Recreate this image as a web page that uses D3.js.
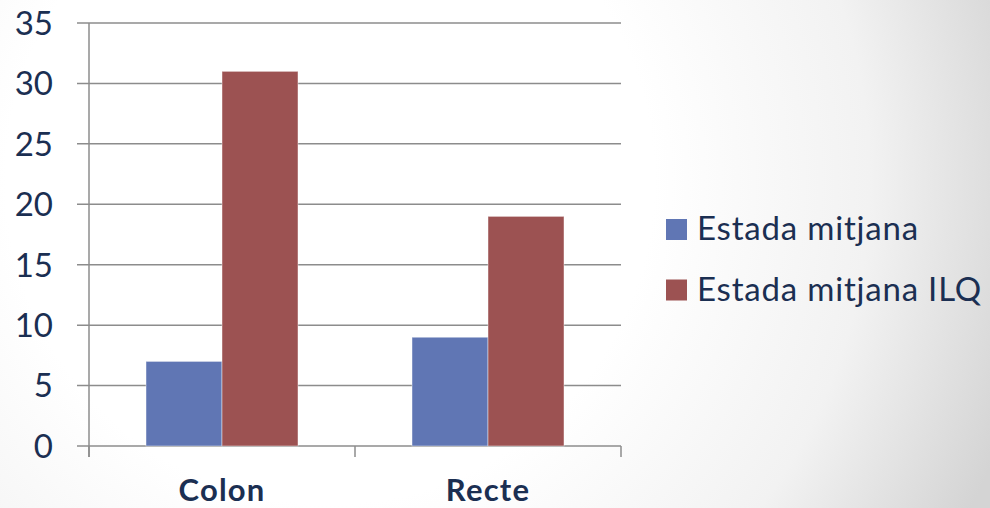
<!doctype html>
<html>
<head>
<meta charset="utf-8">
<style>
  body { margin: 0; }
  svg { display: block; }
  text { font-family: Lato, 'Open Sans', sans-serif; fill: #1b2f52; }
  .grid line, .axis line, .axis path { stroke: #8c8c8c; stroke-width: 1.5; }
  .ytick { font-size: 33px; }
  .cat { font-size: 31px; font-weight: 700; letter-spacing: 1.2px; }
  .legend text { font-size: 33px; letter-spacing: 0.8px; }
</style>
<script src="https://d3js.org/d3.v7.min.js"></script>
</head>
<body>
<svg width="990" height="508"></svg>
<script>
const categories = ['Colon', 'Recte'];
const seriesNames = ['Estada mitjana', 'Estada mitjana ILQ'];
const estadaMitjana = [7, 9];
const estadaMitjanaILQ = [31, 19];
const yTicks = [0, 5, 10, 15, 20, 25, 30, 35];
const colors = ['#6076b4', '#9c5252'];

const series = [estadaMitjana, estadaMitjanaILQ];
const data = categories.map((c, i) => ({ cat: c, values: series.map(s => s[i]) }));

const svg = d3.select('svg');

// background
const defs = svg.append('defs');
const grad = defs.append('radialGradient')
  .attr('id', 'bg')
  .attr('gradientUnits', 'userSpaceOnUse')
  .attr('cx', 330).attr('cy', 180).attr('r', 720);
grad.append('stop').attr('offset', '0.45').attr('stop-color', '#ffffff');
grad.append('stop').attr('offset', '0.75').attr('stop-color', '#f2f2f2');
grad.append('stop').attr('offset', '1').attr('stop-color', '#d4d4d4');
svg.append('rect').attr('width', 990).attr('height', 508).attr('fill', 'url(#bg)');

const plotL = 89, plotR = 621, plotT = 23, plotB = 446;

const x0 = d3.scaleBand().domain(categories).range([plotL, plotR]);
// bar width = bandwidth / 3.5 (gap width 150%)
const bw = x0.bandwidth();
const x1 = d3.scaleBand().domain(d3.range(series.length))
  .range([bw * 0.75 / 3.5, bw * 2.75 / 3.5]);

const y = d3.scaleLinear().domain([0, 35]).range([plotB, plotT]);

// gridlines
svg.append('g').attr('class', 'grid')
  .selectAll('line').data(yTicks).join('line')
  .attr('x1', plotL - 12).attr('x2', plotR)
  .attr('y1', d => y(d)).attr('y2', d => y(d));

// y axis line
svg.append('g').attr('class', 'axis')
  .append('line')
  .attr('x1', plotL).attr('x2', plotL)
  .attr('y1', plotT).attr('y2', plotB + 11);

// x ticks at category boundaries
const bounds = categories.map(c => x0(c)).concat([plotR]);
svg.append('g').attr('class', 'axis')
  .selectAll('line').data(bounds).join('line')
  .attr('x1', d => d).attr('x2', d => d)
  .attr('y1', plotB).attr('y2', plotB + 11);

// bars
const groups = svg.append('g').selectAll('g').data(data).join('g')
  .attr('transform', d => `translate(${x0(d.cat)},0)`);
groups.selectAll('rect').data(d => d.values).join('rect')
  .attr('x', (d, i) => x1(i))
  .attr('width', x1.bandwidth())
  .attr('y', d => y(d))
  .attr('height', d => plotB - y(d))
  .attr('fill', (d, i) => colors[i])
  .attr('stroke', 'rgba(255,255,255,0.45)')
  .attr('stroke-width', 1);

// y tick labels
svg.append('g').selectAll('text').data(yTicks).join('text')
  .attr('class', 'ytick')
  .attr('x', 53).attr('y', d => y(d))
  .attr('dy', '0.36em')
  .attr('text-anchor', 'end')
  .text(d => d);

// category labels
svg.append('g').selectAll('text').data(categories).join('text')
  .attr('class', 'cat')
  .attr('x', d => x0(d) + x0.bandwidth() / 2)
  .attr('y', 501)
  .attr('text-anchor', 'middle')
  .text(d => d);

// legend
const legend = svg.append('g').attr('class', 'legend')
  .selectAll('g').data(seriesNames).join('g')
  .attr('transform', (d, i) => `translate(666, ${219 + i * 60.5})`);
legend.append('rect').attr('width', 21).attr('height', 21).attr('fill', (d, i) => colors[i]);
legend.append('text').attr('x', 31).attr('y', 21).text(d => d);
</script>
</body>
</html>
